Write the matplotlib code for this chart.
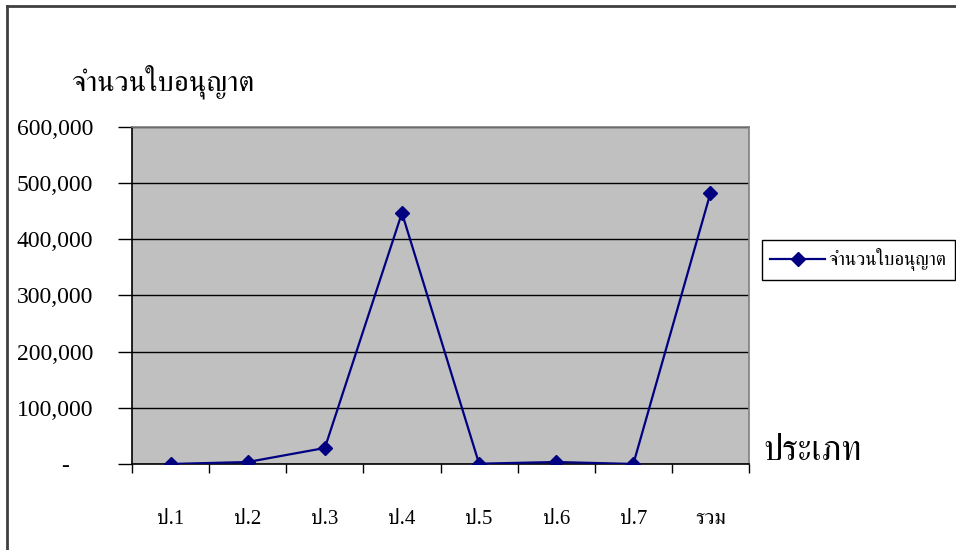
import matplotlib
matplotlib.use("Agg")
import matplotlib.pyplot as plt
from matplotlib import font_manager
from matplotlib.ft2font import FT2Font
from matplotlib.ticker import FuncFormatter, MultipleLocator
from matplotlib.lines import Line2D

categories = ["ป.1", "ป.2", "ป.3", "ป.4", "ป.5", "ป.6", "ป.7", "รวม"]
licences = [0, 3500, 28500, 447000, 500, 3500, 0, 482500]
series_name = "จำนวนใบอนุญาต"
x_title = "ประเภท"


def find_thai_font():
    # pick any installed family that can draw Thai
    found = []
    for f in font_manager.fontManager.ttflist:
        try:
            cmap = FT2Font(f.fname).get_charmap()
        except Exception:
            continue
        if 0x0E08 in cmap and 0x0E33 in cmap and 0x0E0D in cmap:
            found.append(f.name)
    serif = [n for n in found if "Serif" in n or "Looped" in n]
    if serif:
        return serif[0]
    return found[0] if found else None


thai = find_thai_font()
families = ["Liberation Serif"] + ([thai] if thai else []) + ["DejaVu Sans"]
plt.rcParams["font.family"] = families

fig = plt.figure(figsize=(9.56, 5.5), dpi=100)
ax = fig.add_axes([0.1381, 0.1564, 0.6454, 0.6127])
ax.set_facecolor("#c0c0c0")

xs = list(range(len(categories)))
ax.plot(xs, licences, color="#000080", lw=1.6, marker="D", ms=7.5,
        label=series_name, zorder=3)

ax.set_xlim(-0.5, len(categories) - 0.5)
ax.set_ylim(0, 600000)
ax.yaxis.set_major_locator(MultipleLocator(100000))
ax.yaxis.set_major_formatter(
    FuncFormatter(lambda v, p: "-\u2007\u2007" if v == 0 else f"{int(v):,}"))
ax.grid(axis="y", color="black", lw=1)
ax.set_axisbelow(True)

# category boundaries carry the tick marks, centres carry the labels
ax.set_xticks([i - 0.5 for i in range(len(categories) + 1)])
ax.set_xticklabels([])
ax.set_xticks(xs, minor=True)
ax.set_xticklabels(categories, minor=True, fontsize=15)
ax.tick_params(axis="x", which="major", direction="out", length=6.5, width=1, color="black")
ax.tick_params(axis="x", which="minor", length=0, pad=33)
ax.tick_params(axis="y", direction="out", length=10, width=1, pad=18, labelsize=17)

for side in ("left", "bottom"):
    ax.spines[side].set_color("black")
    ax.spines[side].set_linewidth(1.2)
for side in ("top", "right"):
    ax.spines[side].set_color("#808080")
    ax.spines[side].set_linewidth(1.2)

fig.text(0.074, 0.851, series_name, fontsize=21, va="center", ha="left")
fig.text(0.798, 0.18, x_title, fontsize=25, va="center", ha="left")

leg = fig.legend(loc="upper left", bbox_to_anchor=(0.797, 0.5636), fontsize=13.5,
                 handlelength=2.9, fancybox=False, framealpha=1, borderpad=0.45,
                 borderaxespad=0, handletextpad=0.2)
leg.get_frame().set_edgecolor("black")
leg.get_frame().set_linewidth(1)

# outer chart border (runs off the bottom and right of the picture)
fig.add_artist(Line2D([0.0068, 1.0], [0.9891, 0.9891], color="#404040", lw=2))
fig.add_artist(Line2D([0.0068, 0.0068], [0.0, 0.9891], color="#404040", lw=2))

fig.savefig("out.png", dpi=100)
